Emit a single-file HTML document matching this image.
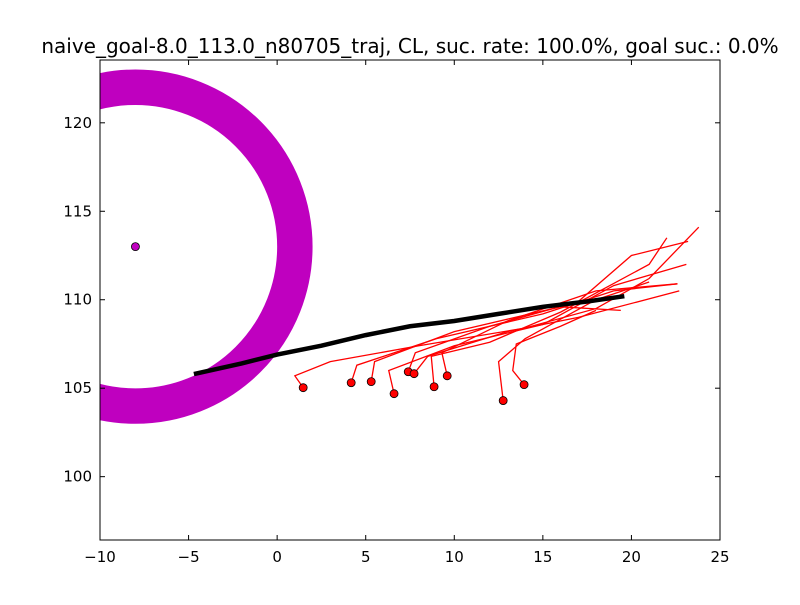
<!DOCTYPE html>
<html><head><meta charset="utf-8"><style>
body{margin:0;background:#fff}
svg text{font-family:"DejaVu Sans","Liberation Sans",sans-serif}
</style></head><body>
<svg id="chart" width="800" height="600" xmlns="http://www.w3.org/2000/svg">
<rect width="800" height="600" fill="#fff"/>
<defs><clipPath id="clip"><rect x="100" y="60" width="620" height="480"/></clipPath></defs>
<g id="plot" clip-path="url(#clip)"></g>
<g id="axes"></g>
<text x="410" y="53" font-size="20" text-anchor="middle">naive_goal-8.0_113.0_n80705_traj, CL, suc. rate: 100.0%, goal suc.: 0.0%</text>
</svg>
<script>
const xTicks=[-10,-5,0,5,10,15,20,25];
const yTicks=[100,105,110,115,120];
const goal=[-8,113];
const ringInner=8, ringOuter=10;
const meanPath=[[-4.7,105.8],[-2,106.4],[0,106.9],[2.5,107.4],[5,108.0],[7.5,108.5],[10,108.8],[12.5,109.2],[15,109.6],[17.5,109.9],[19.6,110.2]];
const traj1=[[1.47,105.03],[1.0,105.7],[3,106.5],[8,107.4],[14,108.4],[18,109.5],[21,111.2],[23.8,114.1]];
const traj2=[[4.18,105.31],[4.5,106.3],[9,107.8],[15,109.2],[19,110.5],[22.6,110.9]];
const traj3=[[5.31,105.37],[5.5,106.5],[10,108.2],[16,109.6],[19.4,109.4]];
const traj4=[[6.6,104.69],[6.3,106],[10,107.4],[15,108.6],[19,110.8],[23.1,112.0]];
const traj5=[[7.4,105.93],[7.8,107],[12,108.5],[17,109.9],[20,112.5],[23.2,113.3]];
const traj6=[[7.73,105.82],[8.5,106.8],[13,108.2],[17,109.0],[22.7,110.5]];
const traj7=[[8.86,105.08],[8.7,106.8],[12,107.6],[16,109.3],[21,112],[22,113.5]];
const traj8=[[9.6,105.7],[9.3,107],[13,108.8],[18,110.5],[22.6,110.9]];
const traj9=[[12.76,104.3],[12.5,106.5],[14,107.8],[18,110.0],[21,111]];
const traj10=[[13.94,105.2],[13.3,106.0],[13.5,107.5],[16,108.5],[18,109.4]];
const trajs=[traj1,traj2,traj3,traj4,traj5,traj6,traj7,traj8,traj9,traj10];

const X0=100,X1=720,Y0=540,Y1=60,xmin=-10,xmax=25,ymin=96.42,ymax=123.55;
const sx=v=>X0+(v-xmin)/(xmax-xmin)*(X1-X0);
const sy=v=>Y0-(v-ymin)/(ymax-ymin)*(Y0-Y1);
const NS="http://www.w3.org/2000/svg";
const plot=document.getElementById('plot'),axes=document.getElementById('axes');
function mk(t,a,p){const e=document.createElementNS(NS,t);for(const k in a)e.setAttribute(k,a[k]);p.appendChild(e);return e;}
const pxPerUnit=(X1-X0)/(xmax-xmin);
const rMid=(ringInner+ringOuter)/2*pxPerUnit;
const ring=mk('circle',{cx:sx(goal[0]),cy:sy(goal[1]),r:rMid,fill:'none',stroke:'#bf00bf','stroke-width':(ringOuter-ringInner)*pxPerUnit},plot);


const gd=mk('circle',{cx:sx(goal[0]),cy:sy(goal[1]),r:4,fill:'#bf00bf',stroke:'#000','stroke-width':0.8},plot);


trajs.forEach((t,i)=>{
  const p=mk('polyline',{points:t.map(q=>sx(q[0])+','+sy(q[1])).join(' '),fill:'none',stroke:'#f00','stroke-width':1.3},plot);
  
  
});
const ml=mk('polyline',{points:meanPath.map(q=>sx(q[0])+','+sy(q[1])).join(' '),fill:'none',stroke:'#000','stroke-width':4.5},plot);


trajs.forEach((t,i)=>{
  const c=mk('circle',{cx:sx(t[0][0]),cy:sy(t[0][1]),r:4,fill:'#f00',stroke:'#000','stroke-width':0.8},plot);
  
  
});
const fr=mk('rect',{x:X0,y:Y1,width:X1-X0,height:Y0-Y1,fill:'none',stroke:'#000','stroke-width':1},axes);


xTicks.forEach(v=>{
  const x=sx(v);
  mk('line',{x1:x,y1:Y0,x2:x,y2:Y0-5,stroke:'#000'},axes);
  mk('line',{x1:x,y1:Y1,x2:x,y2:Y1+5,stroke:'#000'},axes);
  const t=mk('text',{x:x,y:Y0+22,'font-size':15,'text-anchor':'middle'},axes);
  t.textContent=v<0?'\u2212'+(-v):v;
  
  
});
yTicks.forEach(v=>{
  const y=sy(v);
  mk('line',{x1:X0,y1:y,x2:X0+5,y2:y,stroke:'#000'},axes);
  mk('line',{x1:X1,y1:y,x2:X1-5,y2:y,stroke:'#000'},axes);
  const t=mk('text',{x:X0-8,y:y+5,'font-size':15,'text-anchor':'end'},axes);
  t.textContent=v;
  
  
});
</script>
</body></html>
